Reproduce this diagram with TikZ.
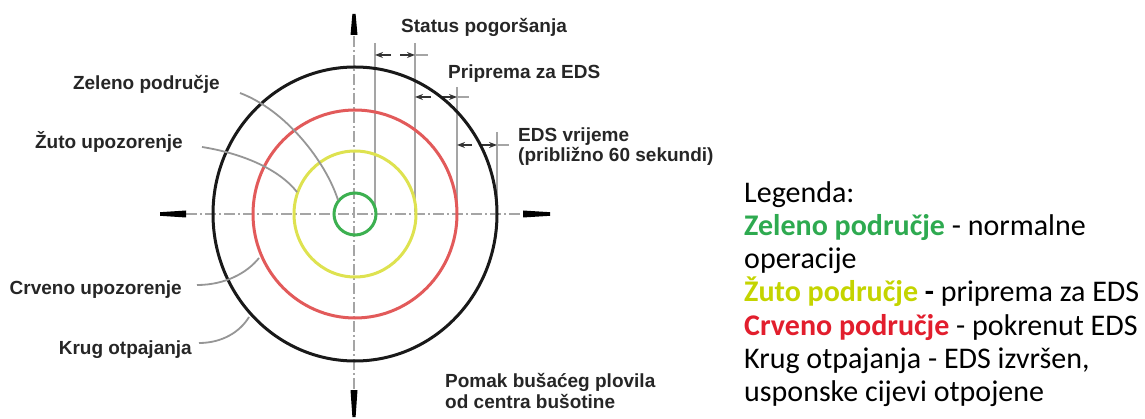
\documentclass[tikz,border=0pt]{standalone}
\usepackage{fontspec}
\setmainfont{Liberation Sans}
\newfontfamily\legfont{Carlito}
\usetikzlibrary{arrows.meta}
\definecolor{cgreen}{RGB}{60,176,80}
\definecolor{cyellow}{RGB}{222,226,80}
\definecolor{cred}{RGB}{226,90,90}
\definecolor{tgreen}{RGB}{46,170,80}
\definecolor{tyellow}{RGB}{196,212,0}
\definecolor{tred}{RGB}{226,30,45}
\definecolor{axisgray}{RGB}{165,165,165}
\definecolor{leadgray}{RGB}{150,150,150}
\begin{document}
\begin{tikzpicture}[x=1pt,y=-1pt,
  lbl/.style={font=\fontsize{19}{22}\selectfont\bfseries, inner sep=0pt, text=black!85},
  leg/.style={font=\legfont\fontsize{30}{33}\selectfont, inner sep=0pt, anchor=base west},
  ring/.style={line width=3pt},
  axisline/.style={draw=axisgray, line width=1.8pt, dash pattern=on 11pt off 3pt on 2pt off 3pt},
  extline/.style={draw=axisgray, line width=1.8pt},
  leader/.style={draw=leadgray, line width=1.8pt},
  dimline/.style={draw=black!80, line width=1.8pt, -{Stealth[length=8pt,width=6pt]}},
  dimtail/.style={draw=axisgray, line width=1.4pt},
  tip/.style={fill=black}
]
\useasboundingbox (0,0) rectangle (1145,419);
\coordinate (c) at (355,214);

% axes
\draw[axisline] (354,36) -- (354,390);
\draw[axisline] (186,214) -- (522,214);
\fill[tip] (352.4,14) -- (355.6,14) -- (357.5,35) -- (350.5,35) -- cycle;
\fill[tip] (352.4,417) -- (355.6,417) -- (357.5,390) -- (350.5,390) -- cycle;
\fill[tip] (160,212.2) -- (160,215.8) -- (186,217.5) -- (186,210.5) -- cycle;
\fill[tip] (550,212.2) -- (550,215.8) -- (523,217.5) -- (523,210.5) -- cycle;

% extension lines
\draw[extline] (375,43) -- (375,212);
\draw[extline] (415,43) -- (415,212);
\draw[extline] (457,87) -- (457,212);
\draw[extline] (497,132) -- (497,212);

% dimension marks
\draw[dimline] (391,55) -- (375,55);
\draw[dimline] (400,55) -- (415,55);
\draw[dimtail] (415,55) -- (428,55);
\draw[dimline] (431,97) -- (415,97);
\draw[dimline] (441,97) -- (457,97);
\draw[dimtail] (457,97) -- (469,97);
\draw[dimline] (472,145) -- (457,145);
\draw[dimline] (481,145) -- (497,145);
\draw[dimtail] (497,145) -- (509,145);

% circles
\draw[ring, draw=black!90] (c) ellipse (142 and 147);
\draw[ring, draw=cred] (c) ellipse (102 and 104);
\draw[ring, draw=cyellow] (c) ellipse (61 and 63);
\draw[ring, draw=cgreen] (c) circle (21);

% points on circles
\coordinate (pg) at (338,200);
\coordinate (py) at (297,192);
\coordinate (pr) at (259,258);
\coordinate (pk) at (249,317);

% left labels
\node[lbl, anchor=base east] (zel) at (220,90) {Zeleno područje};
\node[lbl, anchor=base east] (zut) at (183,149) {Žuto upozorenje};
\node[lbl, anchor=base east] (crv) at (182,295) {Crveno upozorenje};
\node[lbl, anchor=base east] (kru) at (192,355) {Krug otpajanja};

\coordinate (zels) at (240,93);
\coordinate (zuts) at (202,147);
\coordinate (crvs) at (197,285);
\coordinate (krus) at (199,343);
\draw[leader] (zels) .. controls (285,110) and (325,160) .. (pg);
\draw[leader] (zuts) .. controls (240,153) and (278,168) .. (py);
\draw[leader] (crvs) .. controls (225,285) and (247,273) .. (pr);
\draw[leader] (krus) .. controls (222,343) and (240,332) .. (pk);

% top right labels
\node[lbl, anchor=base west] (sta) at (401,33) {Status pogoršanja};
\node[lbl, anchor=base west] (pri) at (448,79) {Priprema za EDS};
\node[lbl, anchor=base west] (eds1) at (518,142) {EDS vrijeme};
\node[lbl, anchor=base west] (eds2) at (518,162) {(približno 60 sekundi)};
\node[lbl, anchor=base west] (pom1) at (445,387) {Pomak bušaćeg plovila};
\node[lbl, anchor=base west] (pom2) at (445,408) {od centra bušotine};

% legend
\node[leg] (l0) at (744,203) {Legenda:};
\node[leg] (l1) at (744,236) {\textcolor{tgreen}{\bfseries Zeleno područje} - normalne};
\node[leg] (l2) at (744,269) {operacije};
\node[leg] (l3) at (744,302) {\textcolor{tyellow}{\bfseries Žuto područje} \textbf{-} priprema za EDS};
\node[leg] (l4) at (744,335) {\textcolor{tred}{\bfseries Crveno područje} - pokrenut EDS};
\node[leg] (l5) at (744,368) {Krug otpajanja - EDS izvršen,};
\node[leg] (l6) at (744,401) {usponske cijevi otpojene};
\end{tikzpicture}
\end{document}
